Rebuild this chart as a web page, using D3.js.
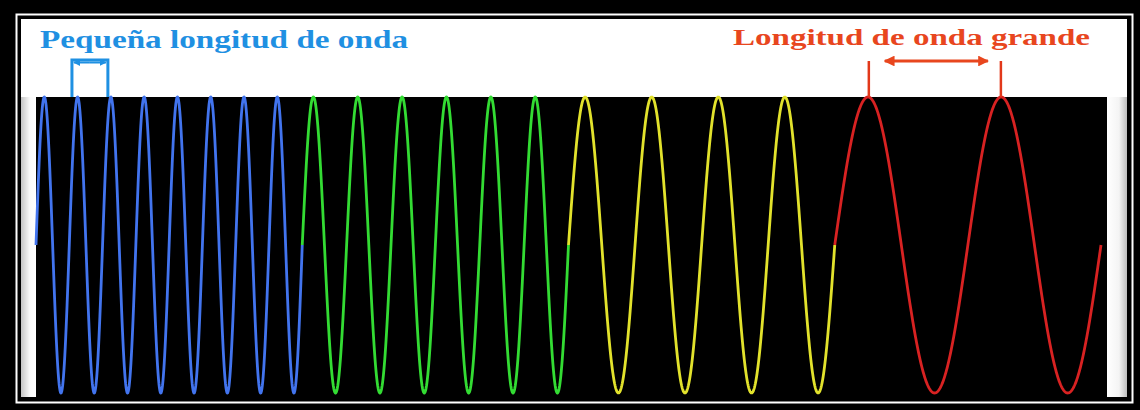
<!DOCTYPE html>
<html>
<head>
<meta charset="utf-8">
<script src="https://cdn.jsdelivr.net/npm/d3@7"></script>
<style>
  html, body { margin: 0; padding: 0; background: #000; overflow: hidden; }
</style>
</head>
<body>
<script>
// wave segments, left to right
const segments = ["azul", "verde", "amarillo", "rojo"];
const cycles = [8, 6, 4, 2];          // full waves inside each segment
const amplitude = [1, 1, 1, 1];
const waveColors = ["#4274ee", "#33dc33", "#e2e22c", "#d82222"];

// annotations (x in segment units, 0..4)
const labels = ["Pequeña longitud de onda", "Longitud de onda grande"];
const labelColors = ["#1f90e2", "#e8461e"];
const bracketX = [[0.135, 0.27], [3.128, 3.624]];

const width = 1140, height = 410;

const svg = d3.select("body").append("svg")
    .attr("width", width)
    .attr("height", height)

// frame: black border, thin white line, white panel
svg.append("rect")
    .attr("x", 0).attr("y", 0)
    .attr("width", width).attr("height", height)
    .style("fill", "#000")
svg.append("rect")
    .attr("x", 16.5).attr("y", 14.5)
    .attr("width", 1116).attr("height", 388)
    .style("fill", "none")
    .style("stroke", "#fff")
    .style("stroke-width", 2)
svg.append("rect")
    .attr("x", 21).attr("y", 19)
    .attr("width", 1106).attr("height", 378)
    .style("fill", "#fff")

// soft shading on left/right edges of the panel
const defs = svg.append("defs");
const grad = defs.append("linearGradient")
    .attr("id", "edge")
grad.append("stop").attr("offset", "0%").attr("stop-color", "#c4c4c4")
grad.append("stop").attr("offset", "60%").attr("stop-color", "#fafafa")
grad.append("stop").attr("offset", "100%").attr("stop-color", "#fff")
svg.append("rect")
    .attr("x", 21).attr("y", 97)
    .attr("width", 15).attr("height", 300)
    .style("fill", "url(#edge)")
const grad2 = defs.append("linearGradient")
    .attr("id", "edgeR")
grad2.append("stop").attr("offset", "0%").attr("stop-color", "#fff")
grad2.append("stop").attr("offset", "60%").attr("stop-color", "#f4f4f4")
grad2.append("stop").attr("offset", "100%").attr("stop-color", "#bdbdbd")
svg.append("rect")
    .attr("x", 1107).attr("y", 97)
    .attr("width", 20).attr("height", 300)
    .style("fill", "url(#edgeR)")

// scales
const x = d3.scaleLinear().domain([0, segments.length]).range([36, 1101]);
const y = d3.scaleLinear().domain([-1, 1]).range([393, 97]);

// black plot area
svg.append("rect")
    .attr("x", 36).attr("y", 97)
    .attr("width", 1107 - 36).attr("height", 300)
    .style("fill", "#000")

const line = d3.line()
    .x(d => x(d[0]))
    .y(d => y(d[1]))

// one path per segment, sampled along the segment
svg.append("g").selectAll("path")
    .data(segments)
    .enter()
    .append("path")
        .attr("d", function (d, i) {
            const pts = [];
            const n = 600;
            for (let k = 0; k <= n; k++) {
                const t = k / n;
                pts.push([i + t, amplitude[i] * Math.sin(2 * Math.PI * cycles[i] * t)]);
            }
            return line(pts);
        })
        .style("fill", "none")
        .style("stroke", (d, i) => waveColors[i])
        .style("stroke-width", 2.8)
        .style("stroke-linejoin", "round")

// arrow markers
labelColors.forEach(function (c, i) {
    defs.append("marker")
        .attr("id", "arrow" + i)
        .attr("viewBox", "0 0 10 10")
        .attr("refX", 9).attr("refY", 5)
        .attr("markerWidth", i === 0 ? 3.5 : 3.6)
        .attr("markerHeight", i === 0 ? 3.5 : 3.6)
        .attr("markerUnits", "strokeWidth")
        .attr("orient", "auto-start-reverse")
        .append("path")
            .attr("d", "M0,0 L10,5 L0,10 Z")
            .style("fill", c)
})

// blue bracket: two ticks joined at the top, arrows inside
const b = bracketX[0];
svg.append("path")
    .attr("d", "M" + x(b[0]) + "," + y(1) + " V60 H" + x(b[1]) + " V" + y(1))
    .style("fill", "none")
    .style("stroke", labelColors[0])
    .style("stroke-width", 3)
svg.append("line")
    .attr("x1", (x(b[0]) + x(b[1])) / 2).attr("y1", 62.5)
    .attr("x2", x(b[0]) + 2).attr("y2", 62.5)
    .attr("marker-end", "url(#arrow0)")
    .style("stroke", labelColors[0])
    .style("stroke-width", 2)
svg.append("line")
    .attr("x1", (x(b[0]) + x(b[1])) / 2).attr("y1", 62.5)
    .attr("x2", x(b[1]) - 2).attr("y2", 62.5)
    .attr("marker-end", "url(#arrow0)")
    .style("stroke", labelColors[0])
    .style("stroke-width", 2)

// red ticks and double arrow
const r = bracketX[1];
r.forEach(function (v) {
    svg.append("line")
        .attr("x1", x(v)).attr("y1", 61)
        .attr("x2", x(v)).attr("y2", y(1))
        .style("stroke", "#e2381a")
        .style("stroke-width", 2.5)
})
svg.append("line")
    .attr("x1", x(r[0]) + 16).attr("y1", 61)
    .attr("x2", x(r[1]) - 13).attr("y2", 61)
    .attr("marker-start", "url(#arrow1)")
    .attr("marker-end", "url(#arrow1)")
    .style("stroke", labelColors[1])
    .style("stroke-width", 3)

// titles
svg.append("text")
    .text(labels[0])
    .attr("x", 40).attr("y", 48)
    .attr("textLength", 368)
    .attr("lengthAdjust", "spacingAndGlyphs")
    .style("font-family", "'Liberation Serif', 'DejaVu Serif', serif")
    .style("font-weight", "bold")
    .style("font-size", "25px")
    .style("fill", labelColors[0])
svg.append("text")
    .text(labels[1])
    .attr("x", 733).attr("y", 45)
    .attr("textLength", 357)
    .attr("lengthAdjust", "spacingAndGlyphs")
    .style("font-family", "'Liberation Serif', 'DejaVu Serif', serif")
    .style("font-weight", "bold")
    .style("font-size", "24px")
    .style("fill", labelColors[1])
</script>
</body>
</html>
